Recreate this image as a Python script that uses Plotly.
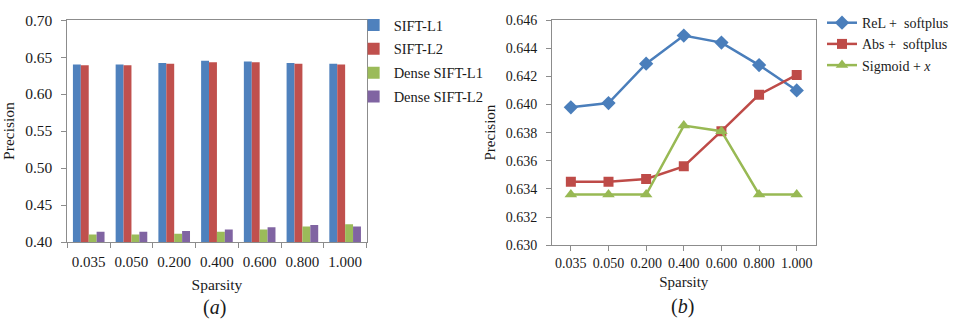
import plotly.graph_objects as go

sparsity = ["0.035", "0.050", "0.200", "0.400", "0.600", "0.800", "1.000"]

# Panel (a) bar values
sift_l1 = [0.640, 0.640, 0.642, 0.645, 0.644, 0.642, 0.641]
sift_l2 = [0.639, 0.639, 0.641, 0.643, 0.643, 0.641, 0.640]
dense_l1 = [0.410, 0.410, 0.411, 0.414, 0.417, 0.421, 0.424]
dense_l2 = [0.414, 0.414, 0.415, 0.417, 0.420, 0.423, 0.421]

# Panel (b) line values
rel_softplus = [0.6398, 0.6401, 0.6429, 0.6449, 0.6444, 0.6428, 0.6410]
abs_softplus = [0.6345, 0.6345, 0.6347, 0.6356, 0.6381, 0.6407, 0.6421]
sigmoid_x = [0.6336, 0.6336, 0.6336, 0.6385, 0.6381, 0.6336, 0.6336]

FONT = "Liberation Serif"
AXIS_COLOR = "#8c8c8c"
W, H = 954, 322

fig = go.Figure()

bar_series = [
    ("SIFT-L1", sift_l1, "#4F81BD"),
    ("SIFT-L2", sift_l2, "#C0504D"),
    ("Dense SIFT-L1", dense_l1, "#9BBB59"),
    ("Dense SIFT-L2", dense_l2, "#8064A2"),
]
for i, (name, vals, col) in enumerate(bar_series):
    fig.add_trace(go.Bar(
        x=sparsity, y=vals, name=name, marker_color=col,
        marker_line_width=0, xaxis="x", yaxis="y",
        legend="legend", legendgroup="a%d" % i,
    ))

line_series = [
    ("ReL +  softplus", rel_softplus, "#4A7EBB", "diamond", 11),
    ("Abs +  softplus", abs_softplus, "#BE4B48", "square", 10),
    ("Sigmoid + <i>x</i>", sigmoid_x, "#98B954", "triangle-up", 11),
]
for i, (name, vals, col, sym, sz) in enumerate(line_series):
    fig.add_trace(go.Scatter(
        x=sparsity, y=vals, name=name, mode="lines+markers",
        line=dict(color=col, width=2.5),
        marker=dict(symbol=sym, size=sz, color=col),
        xaxis="x2", yaxis="y2", legend="legend2",
    ))

def px_x(p):
    return p / W

def px_y(p):
    return 1 - p / H

common_axis = dict(
    showline=True, linecolor=AXIS_COLOR, linewidth=1, mirror=True,
    showgrid=False, zeroline=False, ticks="outside", ticklen=5,
    tickcolor=AXIS_COLOR,
)

fig.update_layout(
    width=W, height=H,
    margin=dict(l=0, r=0, t=0, b=0),
    paper_bgcolor="white", plot_bgcolor="white",
    font=dict(family=FONT, color="#1a1a1a", size=14),
    barmode="group", bargap=0.26, bargroupgap=0.0,
    xaxis=dict(
        domain=[px_x(68), px_x(370)], anchor="y",
        tickson="boundaries", tickfont=dict(size=15), ticklabelstandoff=6,
        tickangle=0,
        title=dict(text="Sparsity", font=dict(size=15.5), standoff=10),
        **common_axis,
    ),
    yaxis=dict(
        domain=[px_y(246), px_y(11.7)], anchor="x",
        range=[0.40, 0.70], dtick=0.05, tickformat=".2f",
        tickfont=dict(size=15.5), ticklabelstandoff=6,
        title=dict(text="Precision", font=dict(size=15.5), standoff=6),
        **common_axis,
    ),
    xaxis2=dict(
        domain=[px_x(557.3), px_x(823.3)], anchor="y2",
        range=[-0.5, 6.5], tickfont=dict(size=14), ticklabelstandoff=0,
        tickangle=0,
        title=dict(text="Sparsity", font=dict(size=15), standoff=6),
        **common_axis,
    ),
    yaxis2=dict(
        domain=[px_y(249.3), px_y(11.7)], anchor="x2",
        range=[0.630, 0.646], dtick=0.002, tickformat=".3f",
        tickfont=dict(size=14), ticklabelstandoff=6,
        title=dict(text="Precision", font=dict(size=15), standoff=6),
        **common_axis,
    ),
    legend=dict(
        x=px_x(357), y=px_y(0), xanchor="left", yanchor="top",
        font=dict(size=14.5), bgcolor="rgba(0,0,0,0)",
        tracegroupgap=2, traceorder="grouped", itemwidth=30,
    ),
    legend2=dict(
        x=px_x(830), y=px_y(-2), xanchor="left", yanchor="top",
        font=dict(size=14), bgcolor="rgba(0,0,0,0)",
        traceorder="normal", itemwidth=30,
    ),
    showlegend=True,
    annotations=[
        dict(text="(<i>a</i>)", x=px_x(217), y=px_y(315), xref="paper", yref="paper",
             showarrow=False, font=dict(size=20, family=FONT), xanchor="center", yanchor="middle"),
        dict(text="(<i>b</i>)", x=px_x(689), y=px_y(314), xref="paper", yref="paper",
             showarrow=False, font=dict(size=20, family=FONT), xanchor="center", yanchor="middle"),
    ],
)

fig.write_html("out.html")
